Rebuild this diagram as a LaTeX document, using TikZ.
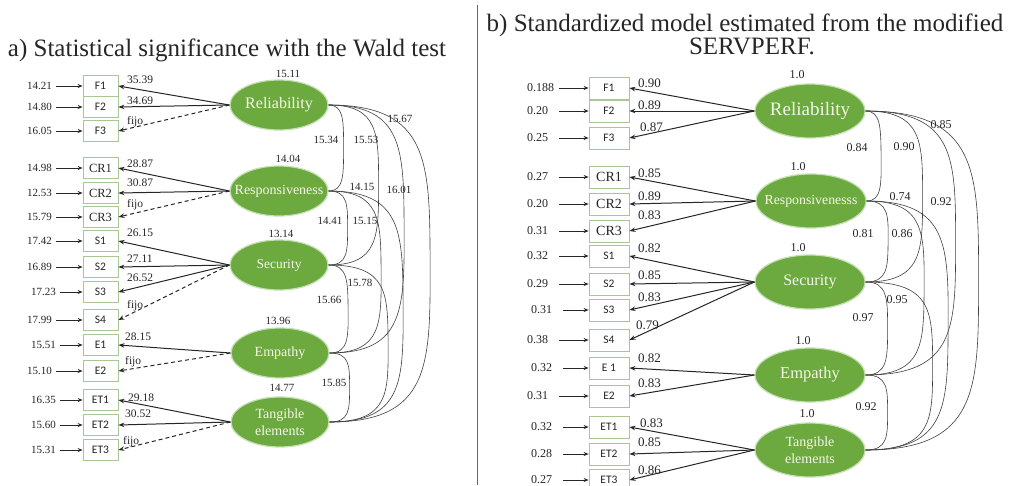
\documentclass[tikz,border=0pt]{standalone}
\usepackage{fontspec}
\setmainfont{Liberation Serif}
\newfontfamily\tnr{Liberation Serif}
\newfontfamily\itemsans{Carlito}
\usetikzlibrary{arrows.meta,shapes.geometric,calc}

\definecolor{latfill}{RGB}{108,170,64}
\definecolor{latrim}{RGB}{196,224,178}
\definecolor{lattext}{RGB}{246,246,232}
\definecolor{boxrim}{RGB}{168,198,150}
\definecolor{ink}{RGB}{38,38,38}

\newcommand\setfs[1]{\tnr\fontsize{#1}{#1}\selectfont}
\newcommand\serifA{\tnr\fontsize{12.5}{13}\selectfont}
\newcommand\serifB{\tnr\fontsize{14}{15}\selectfont}

% covariance arc between the east points of two latent factors,
% reaching #3 to the right of them
\newcommand\covarc[3]{%
  \draw[covline] (#1.east) .. controls +(#3,0) and ($(#1.east)!0.18!(#2.east)+(#3,0)$)
    .. ($(#1.east)!0.5!(#2.east)+(#3,0)$)
    .. controls ($(#1.east)!0.82!(#2.east)+(#3,0)$) and ($(#2.east)+(#3,0)$) .. (#2.east);}

\begin{document}
\begin{tikzpicture}[x=1pt,y=-1pt,
  panelttl/.style={font=\setfs{25}, text=black!85, inner sep=0, anchor=base},
  latent/.style={ellipse, fill=latfill, draw=latrim, line width=1.2pt, inner sep=0},
  latA/.style={latent, minimum width=98pt, minimum height=50pt},
  latB/.style={latent, minimum width=110pt, minimum height=54pt},
  lattxt/.style={text=lattext, inner sep=0, align=center},
  obs/.style={draw=boxrim, line width=0.8pt, fill=white, inner sep=0, text=ink},
  obsA/.style={obs, minimum width=35pt, minimum height=21pt, font=\itemsans\fontsize{11.5}{12}\selectfont},
  obsB/.style={obs, minimum width=40pt, minimum height=22pt, font=\itemsans\fontsize{11.5}{12}\selectfont},
  numtxt/.style={text=ink, inner sep=0},
  errA/.style={numtxt, font=\setfs{11}, anchor=west, text width=26pt, align=left},
  errB/.style={numtxt, font=\setfs{12}, anchor=west, text width=27pt, align=left},
  ldA/.style={numtxt, font=\setfs{11.5}, anchor=west},
  ldB/.style={numtxt, font=\setfs{13}, anchor=west},
  covA/.style={numtxt, font=\setfs{11}},
  covB/.style={numtxt, font=\setfs{12}},
  errline/.style={draw=ink, line width=0.8pt, -{Stealth[length=5pt,width=4pt]}},
  loadline/.style={draw=ink, line width=1pt, -{Stealth[length=6pt,width=4.5pt]}},
  fixline/.style={loadline, dash pattern=on 4pt off 3pt},
  covline/.style={draw=black!75, line width=0.6pt},
]
\useasboundingbox (0,0) rectangle (1011,485);
\fill[white] (0,0) rectangle (1011,485);

% ---------- titles and separator ----------
\node[panelttl] (ttla) at (227,56) {a) Statistical significance with the Wald test};
\node[panelttl] (ttlb) at (745,31) {b) Standardized model estimated from the modified};
\node[panelttl] (ttlc) at (752,54) {SERVPERF.};
\draw[black!60, line width=0.8pt] (477,5) -- (477,485);

% ================= panel a =================
\node[latA] (lrel) at (279,105) {};
\node[lattxt, font=\setfs{16}] (lrelt) at (lrel) {Reliability};
\node[latA] (lres) at (279,191) {};
\node[lattxt, font=\setfs{14}] (lrest) at (lres) {Responsiveness};
\node[latA] (lsec) at (279,265) {};
\node[lattxt, font=\setfs{13.5}] (lsect) at (lsec) {Security};
\node[latA] (lemp) at (280,353) {};
\node[lattxt, font=\setfs{14}] (lempt) at (lemp) {Empathy};
\node[latA] (ltan) at (280,422) {};
\node[lattxt, font=\tnr\fontsize{14}{17}\selectfont] (ltant) at (ltan) {Tangible\\elements};

\node[covA] (lvrel) at (288,74) {15.11};
\node[covA] (lvres) at (288,159) {14.04};
\node[covA] (lvsec) at (281,234) {13.14};
\node[covA] (lvemp) at (278,321) {13.96};
\node[covA] (lvtan) at (282,388) {14.77};

\foreach \id/\txt/\y/\ex/\err in {
  F1/F1/86/27/14.21, F2/F2/107/27/14.80, F3/F3/131/27/16.05,
  CR1/\serifA CR1/168/27/14.98, CR2/\serifA CR2/193/27/12.53, CR3/\serifA CR3/217/27/15.79,
  S1/S1/241/27/17.42, S2/S2/267/27/16.89, S3/S3/292/31/17.23, S4/S4/320/27/17.99,
  E1/E1/345/31/15.51, E2/E2/371/27/15.10,
  ET1/ET1/400/31/16.35, ET2/ET2/425/31/15.60, ET3/ET3/450/31/15.31}
{
  \node[obsA] (a\id) at (100.5,\y) {\txt};
  \node[errA] (ae\id) at (\ex,\y) {\err};
  \draw[errline, shorten <=3pt] (ae\id.east) -- (a\id.west);
}

\draw[loadline] (lrel.west) -- (aF1.east);
\draw[loadline] (lrel.west) -- (aF2.east);
\draw[fixline]  (lrel.west) -- (aF3.east);
\draw[loadline] (lres.west) -- (aCR1.east);
\draw[loadline] (lres.west) -- (aCR2.east);
\draw[fixline]  (lres.west) -- (aCR3.east);
\draw[loadline] (lsec.west) -- (aS1.east);
\draw[loadline] (lsec.west) -- (aS2.east);
\draw[loadline] (lsec.west) -- (aS3.east);
\draw[fixline]  (lsec.west) -- (aS4.east);
\draw[loadline] (lemp.west) -- (aE1.east);
\draw[fixline]  (lemp.west) -- (aE2.east);
\draw[loadline] (ltan.west) -- (aET1.east);
\draw[loadline] (ltan.west) -- (aET2.east);
\draw[fixline]  (ltan.west) -- (aET3.east);

\foreach \id/\x/\y/\t in {
  F1/127/80/35.39, F2/127/101/34.69, F3/127/122/fijo,
  CR1/127/164/28.87, CR2/127/183/30.87, CR3/127/205/fijo,
  S1/127/233/26.15, S2/127/259/27.11, S3/127/278/26.52, S4/127/306/fijo,
  E1/125/337/28.15, E2/125/362/fijo,
  ET1/128/398/29.18, ET2/125/414/30.52, ET3/123/442/fijo}
  \node[ldA] (lda\id) at (\x,\y) {\t};

\covarc{lrel}{lres}{15}
\covarc{lrel}{lsec}{50}
\covarc{lrel}{lemp}{75}
\covarc{lrel}{ltan}{101}
\covarc{lres}{lsec}{19}
\covarc{lres}{lemp}{52}
\covarc{lres}{ltan}{74}
\covarc{lsec}{lemp}{19}
\covarc{lsec}{ltan}{59}
\covarc{lemp}{ltan}{20}

\node[covA] (ca1) at (326,140) {15.34};
\node[covA] (ca2) at (366,140) {15.53};
\node[covA] (ca3) at (400,119) {15.67};
\node[covA] (ca4) at (399,190) {16.01};
\node[covA] (ca5) at (362,187) {14.15};
\node[covA] (ca6) at (330,221) {14.41};
\node[covA] (ca7) at (365,221) {15.15};
\node[covA] (ca8) at (360,283) {15.78};
\node[covA] (ca9) at (329,300) {15.66};
\node[covA] (ca10) at (334,383) {15.85};

% ================= panel b =================
\node[latB] (rrel) at (810,111) {};
\node[lattxt, font=\setfs{19}] (rrelt) at (rrel) {Reliability};
\node[latB] (rres) at (811,201) {};
\node[lattxt, font=\setfs{13.8}] (rrest) at (rres) {Responsivenesss};
\node[latB] (rsec) at (810,282) {};
\node[lattxt, font=\setfs{16}] (rsect) at (rsec) {Security};
\node[latB] (remp) at (810,375) {};
\node[lattxt, font=\setfs{16.5}] (rempt) at (remp) {Empathy};
\node[latB] (rtan) at (810,450) {};
\node[lattxt, font=\tnr\fontsize{14}{17}\selectfont] (rtant) at (rtan) {Tangible\\elements};

\node[covB] (rvrel) at (797,75) {1.0};
\node[covB] (rvres) at (798,167) {1.0};
\node[covB] (rvsec) at (798,248) {1.0};
\node[covB] (rvemp) at (803,341) {1.0};
\node[covB] (rvtan) at (807,414) {1.0};

\foreach \id/\txt/\y/\ex/\err in {
  F1/F1/88/527/0.188, F2/F2/111/527/0.20, F3/F3/138/527/0.25,
  CR1/\serifB CR1/177/527/0.27, CR2/\serifB CR2/204/527/0.20, CR3/\serifB CR3/231/527/0.31,
  S1/S1/256/527/0.32, S2/S2/284/527/0.29, S3/S3/310/531/0.31, S4/S4/340/527/0.38,
  E1/E 1/368/531/0.32, E2/E2/396/527/0.31,
  ET1/ET1/427/531/0.32, ET2/ET2/454/531/0.28, ET3/ET3/480/531/0.27}
{
  \node[obsB] (b\id) at (609,\y) {\txt};
  \node[errB] (be\id) at (\ex,\y) {\err};
  \draw[errline, shorten <=5pt] (be\id.east) -- (b\id.west);
}

\foreach \id in {F1,F2,F3} \draw[loadline] (rrel.west) -- (b\id.east);
\foreach \id in {CR1,CR2,CR3} \draw[loadline] (rres.west) -- (b\id.east);
\foreach \id in {S1,S2,S3,S4} \draw[loadline] (rsec.west) -- (b\id.east);
\foreach \id in {E1,E2} \draw[loadline] (remp.west) -- (b\id.east);
\foreach \id in {ET1,ET2,ET3} \draw[loadline] (rtan.west) -- (b\id.east);

\foreach \id/\x/\y/\t in {
  F1/638/83/0.90, F2/638/105/0.89, F3/640/127/0.87,
  CR1/638/173/0.85, CR2/638/196/0.89, CR3/638/215/0.83,
  S1/638/248/0.82, S2/638/275/0.85, S3/638/297/0.83, S4/636/325/0.79,
  E1/638/358/0.82, E2/638/383/0.83,
  ET1/640/423/0.83, ET2/638/442/0.85, ET3/638/470/0.86}
  \node[ldB] (ldb\id) at (\x,\y) {\t};

\covarc{rrel}{rres}{15}
\covarc{rrel}{rsec}{57}
\covarc{rrel}{remp}{90}
\covarc{rrel}{rtan}{113}
\covarc{rres}{rsec}{22}
\covarc{rres}{remp}{58}
\covarc{rres}{rtan}{82}
\covarc{rsec}{remp}{22}
\covarc{rsec}{rtan}{67}
\covarc{remp}{rtan}{22}

\node[covB] (cb1) at (857,148) {0.84};
\node[covB] (cb2) at (904,147) {0.90};
\node[covB] (cb3) at (941,125) {0.85};
\node[covB] (cb4) at (941,202) {0.92};
\node[covB] (cb5) at (900,197) {0.74};
\node[covB] (cb6) at (863,234) {0.81};
\node[covB] (cb7) at (902,234) {0.86};
\node[covB] (cb8) at (897,300) {0.95};
\node[covB] (cb9) at (863,318) {0.97};
\node[covB] (cb10) at (866,407) {0.92};
\end{tikzpicture}
\end{document}
